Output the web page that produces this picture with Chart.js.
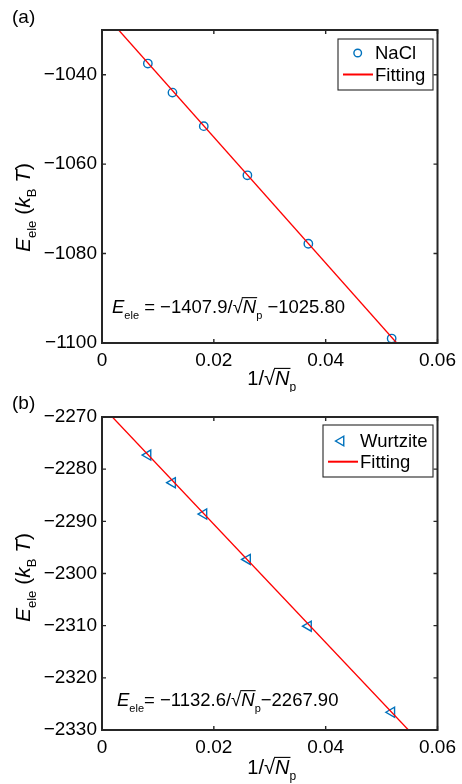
<!DOCTYPE html>
<html><head><meta charset="utf-8">
<script src="https://cdn.jsdelivr.net/npm/chart.js@4"></script>
<style>
html,body{margin:0;padding:0;background:#fff;width:462px;height:784px;overflow:hidden}
canvas{position:absolute;left:0}
#ca{top:0}
#cb{top:392px}
</style></head><body>
<canvas id="ca" width="462" height="392"></canvas>
<canvas id="cb" width="462" height="392"></canvas>
<script>
// ---- data ----
const xInvSqrtNp = [0.0082, 0.0126, 0.0182, 0.0260, 0.0369, 0.0518];
const naclEnergy = [-1037.5, -1044.0, -1051.5, -1062.5, -1077.8, -1099.0];
const wurtziteEnergy = [-2277.3, -2282.6, -2288.6, -2297.3, -2310.1, -2326.6];
const fitNaclX = [0.00298, 0.0527];
const fitNaclY = [-1030, -1100];
const fitWurtziteX = [0.00185, 0.0548];
const fitWurtziteY = [-2270, -2330];
const xTicks = [0, 0.02, 0.04, 0.06];
const xTickLabels = ['0', '0.02', '0.04', '0.06'];
const yTicksA = [-1100, -1080, -1060, -1040];
const yTicksB = [-2330, -2320, -2310, -2300, -2290, -2280, -2270];
const yRangeA = [-1100, -1030];
const yRangeB = [-2330, -2270];

const FAM = '"Liberation Sans", Arial, Helvetica, sans-serif';
const AX = '#262626';
const BLUE = '#0072BD';
const RED = '#FF0000';

function fontStr(r, size) { return (r.it ? 'italic ' : '') + size + 'px ' + FAM; }
function runSize(r, base) { return r.sub ? Math.round(base * 0.6) : base; }
function measureRuns(ctx, runs, base) {
  let w = 0;
  for (const r of runs) { ctx.font = fontStr(r, runSize(r, base)); w += ctx.measureText(r.t).width; }
  return w;
}
function drawRuns(ctx, runs, x, y, align, base) {
  base = base || 18;
  const w = measureRuns(ctx, runs, base);
  let cx = align === 'center' ? x - w / 2 : (align === 'right' ? x - w : x);
  ctx.fillStyle = '#000';
  ctx.textBaseline = 'alphabetic';
  ctx.textAlign = 'left';
  for (const r of runs) {
    const s = runSize(r, base);
    ctx.font = fontStr(r, s);
    const rw = ctx.measureText(r.t).width;
    const yy = r.sub ? y + base * 0.3 : y;
    ctx.fillText(r.t, cx, yy);
    if (r.ov) {
      ctx.strokeStyle = '#000'; ctx.lineWidth = 1.1;
      ctx.beginPath(); ctx.moveTo(cx - 1, y - base * 0.83); ctx.lineTo(cx + rw + 1, y - base * 0.83); ctx.stroke();
    }
    cx += rw;
  }
}

function fmtY(v) { return (v < 0 ? '\u2212' : '') + Math.abs(v); }

function makeChart(id, cfg) {
  const deco = {
    id: 'deco',
    afterDraw(chart) {
      const ctx = chart.ctx;
      const a = chart.chartArea;
      const xs = chart.scales.x, ys = chart.scales.y;
      ctx.save();
      // frame
      ctx.strokeStyle = AX; ctx.lineWidth = 2;
      ctx.strokeRect(a.left, a.top, a.right - a.left, a.bottom - a.top);
      // inward ticks
      ctx.lineWidth = 1.4;
      ctx.beginPath();
      for (const v of xTicks) {
        const px = xs.getPixelForValue(v);
        ctx.moveTo(px, a.bottom); ctx.lineTo(px, a.bottom - 4);
        ctx.moveTo(px, a.top); ctx.lineTo(px, a.top + 4);
      }
      for (const v of cfg.yTicks) {
        const py = ys.getPixelForValue(v);
        ctx.moveTo(a.left, py); ctx.lineTo(a.left + 4, py);
        ctx.moveTo(a.right, py); ctx.lineTo(a.right - 4, py);
      }
      ctx.stroke();
      // panel label
      ctx.font = '19px ' + FAM; ctx.fillStyle = '#000'; ctx.textAlign = 'left'; ctx.textBaseline = 'alphabetic';
      ctx.fillText(cfg.panel, cfg.panelPos[0], cfg.panelPos[1]);
      // y title (rotated)
      ctx.save();
      ctx.translate(cfg.yTitleX, cfg.yTitleBottom);
      ctx.rotate(-Math.PI / 2);
      drawRuns(ctx, [{t:'E',it:1},{t:'ele',sub:1},{t:' ('},{t:'k',it:1},{t:'B',sub:1},{t:' '},{t:'T',it:1},{t:')'}], 0, 0, 'left', 21);
      ctx.restore();
      // x title
      drawRuns(ctx, [{t:'1/\u221A'},{t:'N',it:1,ov:1},{t:'p',sub:1}], (a.left + a.right) / 2 + 2, cfg.xTitleY, 'center', 20);
      // equation
      drawRuns(ctx, cfg.eq, cfg.eqPos[0], cfg.eqPos[1], 'left', 18.5);
      // legend
      const L = cfg.legend;
      ctx.fillStyle = '#fff';
      ctx.fillRect(L.box[0], L.box[1], L.box[2] - L.box[0], L.box[3] - L.box[1]);
      ctx.strokeStyle = AX; ctx.lineWidth = 1.1;
      ctx.strokeRect(L.box[0], L.box[1], L.box[2] - L.box[0], L.box[3] - L.box[1]);
      ctx.strokeStyle = BLUE; ctx.lineWidth = 1.4;
      ctx.beginPath();
      if (cfg.marker === 'circle') {
        ctx.arc(L.marker[0], L.marker[1], 3.8, 0, Math.PI * 2);
      } else {
        const r = 5.5, mx = L.marker[0], my = L.marker[1];
        ctx.moveTo(mx - r, my);
        ctx.lineTo(mx + r * 0.5, my - r * 0.866);
        ctx.lineTo(mx + r * 0.5, my + r * 0.866);
        ctx.closePath();
      }
      ctx.stroke();
      ctx.strokeStyle = RED; ctx.lineWidth = 2;
      ctx.beginPath(); ctx.moveTo(L.line[0], L.line[2]); ctx.lineTo(L.line[1], L.line[2]); ctx.stroke();
      ctx.font = '18.5px ' + FAM; ctx.fillStyle = '#000'; ctx.textBaseline = 'middle'; ctx.textAlign = 'left';
      ctx.fillText(cfg.seriesName, L.textX, L.marker[1] + 1);
      ctx.fillText('Fitting', L.textX, L.line[2] + 1);
      ctx.restore();
    }
  };
  const pts = cfg.xs.map((x, i) => ({x, y: cfg.ys[i]}));
  const fit = cfg.fx.map((x, i) => ({x, y: cfg.fy[i]}));
  return new Chart(document.getElementById(id), {
    type: 'scatter',
    data: { datasets: [
      { label: 'Fitting', data: fit, showLine: true, borderColor: RED, borderWidth: 1.3, pointRadius: 0, order: 0, fill: false },
      { label: cfg.seriesName, data: pts, showLine: false, borderColor: BLUE, backgroundColor: 'rgba(0,0,0,0)',
        borderWidth: 1.4, pointStyle: cfg.marker === 'circle' ? 'circle' : 'triangle', rotation: cfg.marker === 'circle' ? 0 : -90,
        pointRadius: cfg.marker === 'circle' ? 4.2 : 5.8, order: 1 }
    ]},
    options: {
      responsive: false, animation: false, devicePixelRatio: 1,
      layout: { padding: { left: 0, top: cfg.top, right: 21, bottom: 0 } },
      plugins: { legend: { display: false }, tooltip: { enabled: false } },
      scales: {
        x: { type: 'linear', min: 0, max: 0.06,
          afterBuildTicks: s => { s.ticks = xTicks.map(v => ({ value: v })); },
          afterFit: s => { s.height = cfg.xh; },
          ticks: { callback: (v) => xTickLabels[xTicks.indexOf(v)] ?? '', font: { family: FAM, size: 19 }, color: '#000', padding: 6, maxRotation: 0, autoSkip: false },
          grid: { display: false, drawTicks: false }, border: { display: false } },
        y: { type: 'linear', min: cfg.yRange[0], max: cfg.yRange[1],
          afterBuildTicks: s => { s.ticks = cfg.yTicks.map(v => ({ value: v })); },
          afterFit: s => { s.width = 102; },
          ticks: { callback: v => fmtY(v), font: { family: FAM, size: 19 }, color: '#000', padding: 5, autoSkip: false },
          grid: { display: false, drawTicks: false }, border: { display: false } }
      }
    },
    plugins: [deco]
  });
}

makeChart('ca', {
  panel: '(a)', panelPos: [12, 23], top: 30, xh: 49,
  xs: xInvSqrtNp, ys: naclEnergy, fx: fitNaclX, fy: fitNaclY,
  yTicks: yTicksA, yRange: yRangeA, marker: 'circle', seriesName: 'NaCl',
  yTitleX: 30, yTitleBottom: 252, xTitleY: 385,
  eq: [{t:'E',it:1},{t:'ele',sub:1},{t:' = \u22121407.9/\u221A'},{t:'N',it:1,ov:1},{t:'p',sub:1},{t:' \u22121025.80'}],
  eqPos: [112, 313],
  legend: { box: [338, 39, 433, 90], marker: [357.7, 53], line: [343, 373, 74.5], textX: 375 }
});
makeChart('cb', {
  panel: '(b)', panelPos: [12, 17], top: 25, xh: 54,
  xs: xInvSqrtNp, ys: wurtziteEnergy, fx: fitWurtziteX, fy: fitWurtziteY,
  yTicks: yTicksB, yRange: yRangeB, marker: 'triangle', seriesName: 'Wurtzite',
  yTitleX: 30, yTitleBottom: 230, xTitleY: 382,
  eq: [{t:'E',it:1},{t:'ele',sub:1},{t:'= \u22121132.6/\u221A'},{t:'N',it:1,ov:1},{t:'p',sub:1},{t:'\u22122267.90'}],
  eqPos: [117, 314],
  legend: { box: [323, 33, 433, 85], marker: [341, 49], line: [328, 358, 69.7], textX: 360 }
});
</script>
</body></html>
